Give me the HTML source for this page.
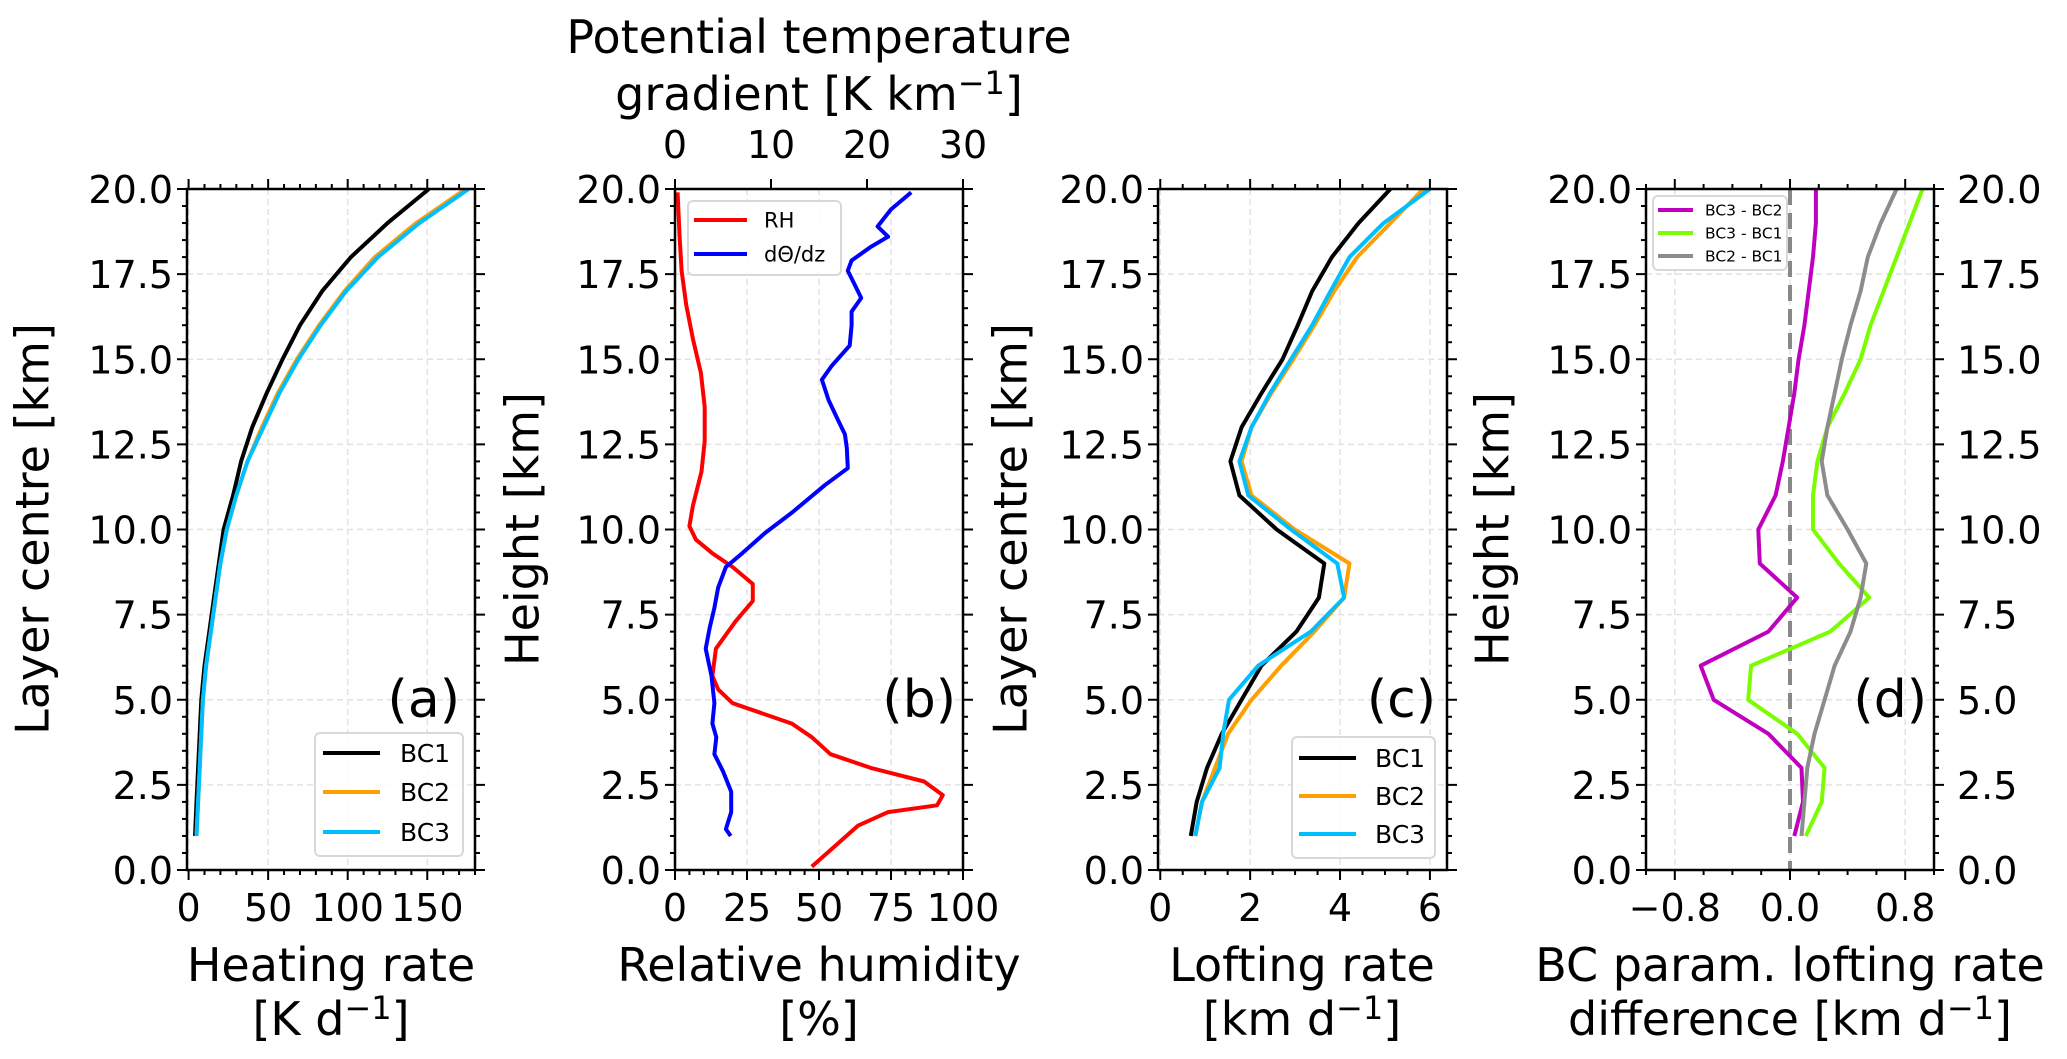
<!DOCTYPE html>
<html><head><meta charset="utf-8">
<style>
html,body{margin:0;padding:0;background:#fff;}
svg{display:block;font-family:"DejaVu Sans","Liberation Sans",sans-serif;}
</style></head>
<body>
<svg id="fig" width="2067" height="1059" viewBox="0 0 2067 1059" xmlns="http://www.w3.org/2000/svg"></svg>
<script>
// ---------- data ----------
const heights = [1,2,3,4,5,6,7,8,9,10,11,12,13,14,15,16,17,18,19,20];
const heatBC1 = [4,5,6,7,8,10,13,16,19,22,28,33,40,49,59,70,84,102,125,151];
const heatBC2 = [5,6,7,8,9,11,14,17,20,24,30,37,46,56,68,82,98,117,143,174];
const heatBC3 = [5,6,7,8,9,11,14,17,20,24,30,37,47,57,69,83,99,119,145,176];

const rhHeights = [0.1,0.7,1.3,1.7,1.9,2.2,2.6,3.0,3.4,3.9,4.3,4.9,5.3,5.7,6.5,7.3,7.9,8.4,8.9,9.3,9.7,10.1,10.7,11.7,12.6,13.6,14.6,15.6,16.6,17.6,18.6,19.9];
const rhValues = [47.5,55.5,63.5,74,91,93,86.5,68,54,47.5,40.6,20,15,13,14.2,21,27,27,20,13,7.3,5,6.2,9.2,10.3,10.3,9,6.2,3.9,2.3,1.6,0.9];
const thHeights = [1.0,1.2,1.7,2.3,2.9,3.4,3.9,4.3,4.9,5.7,6.5,7.1,7.7,8.3,8.9,9.3,9.9,10.5,11.3,11.8,12.4,12.8,13.2,13.8,14.4,14.8,15.4,16.0,16.4,16.8,17.2,17.6,17.9,18.3,18.6,18.9,19.4,19.9];
const thValues = [5.8,5.3,5.85,5.85,5,4.1,4.3,3.9,4.1,3.8,3.2,3.6,4.1,4.5,5.3,7,9.4,12.2,15.6,18,17.9,17.7,17,16,15.3,16.3,18.2,18.4,18.4,19.4,18.7,18,18.4,20.4,22.2,21.1,22.5,24.6];

const loftBC1 = [0.68,0.81,1.04,1.37,1.81,2.25,3.03,3.53,3.65,2.59,1.76,1.56,1.81,2.25,2.72,3.06,3.38,3.82,4.41,5.12];
const loftBC2 = [0.78,0.93,1.22,1.51,2.03,2.69,3.43,4.09,4.21,2.99,2.03,1.81,2.03,2.47,2.96,3.43,3.87,4.38,5.12,5.85];
const loftBC3 = [0.78,0.93,1.32,1.40,1.53,2.18,3.35,4.09,3.94,2.91,1.96,1.76,2.03,2.44,2.91,3.38,3.79,4.21,4.97,6.0];

const diff32 = [0.03,0.09,0.08,-0.15,-0.53,-0.62,-0.15,0.05,-0.21,-0.22,-0.10,-0.05,-0.01,0.03,0.06,0.10,0.13,0.16,0.18,0.18];
const diff31 = [0.11,0.22,0.24,0.05,-0.29,-0.27,0.28,0.55,0.34,0.16,0.16,0.19,0.26,0.38,0.49,0.56,0.65,0.74,0.83,0.92];
const diff21 = [0.08,0.10,0.12,0.17,0.24,0.31,0.42,0.49,0.53,0.40,0.26,0.22,0.26,0.31,0.36,0.42,0.49,0.54,0.63,0.74];

const yTicks = [0,2.5,5,7.5,10,12.5,15,17.5,20];
const yTickLabels = ["0.0","2.5","5.0","7.5","10.0","12.5","15.0","17.5","20.0"];
const aTicks = [0,50,100,150], aTickLabels = ["0","50","100","150"];
const bTicks = [0,25,50,75,100], bTickLabels = ["0","25","50","75","100"];
const bTopTicks = [0,10,20,30], bTopLabels = ["0","10","20","30"];
const cTicks = [0,2,4,6], cTickLabels = ["0","2","4","6"];
const dTicks = [-0.8,0,0.8], dTickLabels = ["\u22120.8","0.0","0.8"];

// ---------- layout ----------
const NS = "http://www.w3.org/2000/svg";
const svg = document.getElementById('fig');
const Y0 = 189, Y1 = 870;
function yS(v){ return Y1 - (v/20)*(Y1-Y0); }
function mk(tag, attrs, parent){
  const e = document.createElementNS(NS, tag);
  for (const k in attrs) e.setAttribute(k, attrs[k]);
  (parent||svg).appendChild(e);
  return e;
}
function txt(s, x, y, size, anchor, parent){
  const t = mk('text', {x:x, y:y, 'font-size':size, 'text-anchor':anchor||'middle', fill:'#000'}, parent);
  t.textContent = s;
  return t;
}
function makeX(x0, x1, lo, hi){ return v => x0 + (v-lo)/(hi-lo)*(x1-x0); }

function panel(name, x0, x1, xs, lo, hi, xt, xtl, minorStep, gridX){
  const g = mk('g', {});
  
  
  // grid
  const grid = mk('g', {stroke:'#e2e2e2','stroke-width':1.5,'stroke-dasharray':'6,4'}, g);
  
  
  yTicks.forEach(v => mk('line', {x1:x0, x2:x1, y1:yS(v), y2:yS(v)}, grid));
  gridX.forEach(v => mk('line', {x1:xs(v), x2:xs(v), y1:Y0, y2:Y1}, grid));
  // ticks
  const tk = mk('g', {stroke:'#000','stroke-width':2}, g);
  
  
  for (let v=0; v<=20.001; v+=0.5){
    const maj = Math.abs(v/2.5 - Math.round(v/2.5))<1e-6;
    const L = maj?10:5;
    mk('line', {x1:x0-L, x2:x0, y1:yS(v), y2:yS(v)}, tk);
    mk('line', {x1:x1, x2:x1+L, y1:yS(v), y2:yS(v)}, tk);
  }
  const start = Math.ceil(lo/minorStep - 1e-6);
  for (let i=start; i*minorStep<=hi+1e-9; i++){
    const v = i*minorStep;
    const maj = xt.some(t => Math.abs(t-v)<1e-6);
    const L = maj?10:5;
    mk('line', {x1:xs(v), x2:xs(v), y1:Y1, y2:Y1+L}, tk);
    if (name !== 'panel-b') mk('line', {x1:xs(v), x2:xs(v), y1:Y0-L, y2:Y0}, tk);
  }
  // y tick labels
  const yl = mk('g', {}, g);
  
  
  yTicks.forEach((v,i) => txt(yTickLabels[i], x0-14, yS(v)+14, 38, 'end', yl));
  const xl = mk('g', {}, g);
  
  
  xt.forEach((v,i) => txt(xtl[i], xs(v), 921, 38, 'middle', xl));
  return g;
}
function spine(g, x0, x1, name){
  const r = mk('rect', {x:x0, y:Y0, width:x1-x0, height:Y1-Y0, fill:'none', stroke:'#000', 'stroke-width':2.5}, g);
  
  
}
function series(g, xs, xv, yv, color, name, w){
  const d = xv.map((v,i) => (i?'L':'M') + xs(v).toFixed(1) + ' ' + yS(yv[i]).toFixed(1)).join(' ');
  const p = mk('path', {d:d, fill:'none', stroke:color, 'stroke-width':w||4, 'stroke-linejoin':'round'}, g);
  
  
}
function legend(g, bx, by, bw, bh, entries, lx0, lx1, tx, ys, fs, lw, name){
  const lg = mk('g', {}, g);
  
  
  mk('rect', {x:bx, y:by, width:bw, height:bh, rx:5, fill:'#fff', 'fill-opacity':0.85, stroke:'#d8d8d8', 'stroke-width':2}, lg);
  entries.forEach((e,i) => {
    const it = mk('g', {}, lg);
    
    
    mk('line', {x1:lx0, x2:lx1, y1:ys[i], y2:ys[i], stroke:e[1], 'stroke-width':lw}, it);
    txt(e[0], tx, ys[i]+fs*0.36, fs, 'start', it);
  });
}
function rotLabel(s, x, y, name){
  const t = txt(s, x, y, 46, 'middle');
  t.setAttribute('transform', `rotate(-90 ${x} ${y})`);
  t.setAttribute('dominant-baseline', 'middle');
  
  
}
function xLabel(lines, cx, name){
  const t = mk('text', {x:cx, y:981, 'font-size':46, 'text-anchor':'middle'});
  
  
  t.innerHTML = lines;
}

// ---------- panel a ----------
const xa = makeX(187, 475, -1, 180);
const ga = panel('panel-a', 187, 475, xa, -1, 180, aTicks, aTickLabels, 10, aTicks);
series(ga, xa, heatBC1, heights, '#000', 'line-bc1-heating');
series(ga, xa, heatBC2, heights, '#ff9f00', 'line-bc2-heating');
series(ga, xa, heatBC3, heights, '#00bfff', 'line-bc3-heating');
spine(ga, 187, 475, 'panel-a');
legend(ga, 315, 733, 148, 123, [['BC1','#000'],['BC2','#ff9f00'],['BC3','#00bfff']], 323, 380, 400, [753,792,832], 25, 4, 'legend-a');
txt('(a)', 460, 717, 52, 'end', ga);
rotLabel('Layer centre [km]', 36, 529, 'y-axis-title-a');
xLabel('<tspan x="331" y="981">Heating rate</tspan><tspan x="331" y="1035">[K d<tspan dy="-16" font-size="32">\u22121</tspan><tspan dy="16">]</tspan></tspan>', 331, 'x-axis-title-a');

// ---------- panel b ----------
const xb = makeX(675, 963, 0, 100);
const xbt = makeX(675, 963, 0, 30);
const gb = panel('panel-b', 675, 963, xb, 0, 100, bTicks, bTickLabels, 5, bTicks);
series(gb, xb, rhValues, rhHeights, '#ff0000', 'line-rh', 4);
series(gb, xbt, thValues, thHeights, '#0000ff', 'line-dtheta-dz', 4);
const tb = mk('g', {stroke:'#000','stroke-width':2}, gb);


bTopTicks.forEach(v => mk('line', {x1:xbt(v), x2:xbt(v), y1:Y0-10, y2:Y0}, tb));
bTopTicks.forEach((v,i) => txt(bTopLabels[i], xbt(v), 158, 38, 'middle', gb));
spine(gb, 675, 963, 'panel-b');
legend(gb, 688, 201, 153, 74, [['RH','#ff0000'],['d\u0398/dz','#0000ff']], 694, 747, 764, [220,254], 21, 4, 'legend-b');
txt('(b)', 956, 717, 52, 'end', gb);
rotLabel('Height [km]', 526, 529, 'y-axis-title-b');
xLabel('<tspan x="819" y="981">Relative humidity</tspan><tspan x="819" y="1035">[%]</tspan>', 819, 'x-axis-title-b');
const tt = mk('text', {x:819, y:53, 'font-size':46, 'text-anchor':'middle'});


tt.innerHTML = '<tspan x="819" y="53">Potential temperature</tspan><tspan x="819" y="110">gradient [K km<tspan dy="-16" font-size="32">\u22121</tspan><tspan dy="16">]</tspan></tspan>';

// ---------- panel c ----------
const xc = makeX(1158, 1447, -0.05, 6.38);
const gc = panel('panel-c', 1158, 1447, xc, -0.05, 6.38, cTicks, cTickLabels, 0.5, cTicks);
series(gc, xc, loftBC1, heights, '#000', 'line-bc1-lofting');
series(gc, xc, loftBC2, heights, '#ff9f00', 'line-bc2-lofting');
series(gc, xc, loftBC3, heights, '#00bfff', 'line-bc3-lofting');
spine(gc, 1158, 1447, 'panel-c');
legend(gc, 1292, 737, 143, 121, [['BC1','#000'],['BC2','#ff9f00'],['BC3','#00bfff']], 1299, 1356, 1375, [758,796,834], 25, 4, 'legend-c');
txt('(c)', 1436, 717, 52, 'end', gc);
rotLabel('Layer centre [km]', 1014, 529, 'y-axis-title-c');
xLabel('<tspan x="1302" y="981">Lofting rate</tspan><tspan x="1302" y="1035">[km d<tspan dy="-16" font-size="32">\u22121</tspan><tspan dy="16">]</tspan></tspan>', 1302, 'x-axis-title-c');

// ---------- panel d ----------
const xd = makeX(1646, 1934, -1, 1);
const gd = panel('panel-d', 1646, 1934, xd, -1, 1, dTicks, dTickLabels, 0.2, dTicks);
const zl = mk('line', {x1:xd(0), x2:xd(0), y1:Y0, y2:Y1, stroke:'#888', 'stroke-width':4, 'stroke-dasharray':'16,8'}, gd);


series(gd, xd, diff32, heights, '#bf00bf', 'line-bc3-minus-bc2');
series(gd, xd, diff31, heights, '#7cfc00', 'line-bc3-minus-bc1');
series(gd, xd, diff21, heights, '#8c8c8c', 'line-bc2-minus-bc1');
spine(gd, 1646, 1934, 'panel-d');
const yr = mk('g', {}, gd);


yTicks.forEach((v,i) => txt(yTickLabels[i], 1957, yS(v)+14, 38, 'start', yr));
legend(gd, 1653, 196, 134, 74, [['BC3 - BC2','#bf00bf'],['BC3 - BC1','#7cfc00'],['BC2 - BC1','#8c8c8c']], 1658, 1693, 1705, [210,233,256], 15.5, 4, 'legend-d');
txt('(d)', 1927, 717, 52, 'end', gd);
rotLabel('Height [km]', 1496, 529, 'y-axis-title-d');
xLabel('<tspan x="1790" y="981">BC param. lofting rate</tspan><tspan x="1790" y="1035">difference [km d<tspan dy="-16" font-size="32">\u22121</tspan><tspan dy="16">]</tspan></tspan>', 1790, 'x-axis-title-d');
</script>
</body></html>
